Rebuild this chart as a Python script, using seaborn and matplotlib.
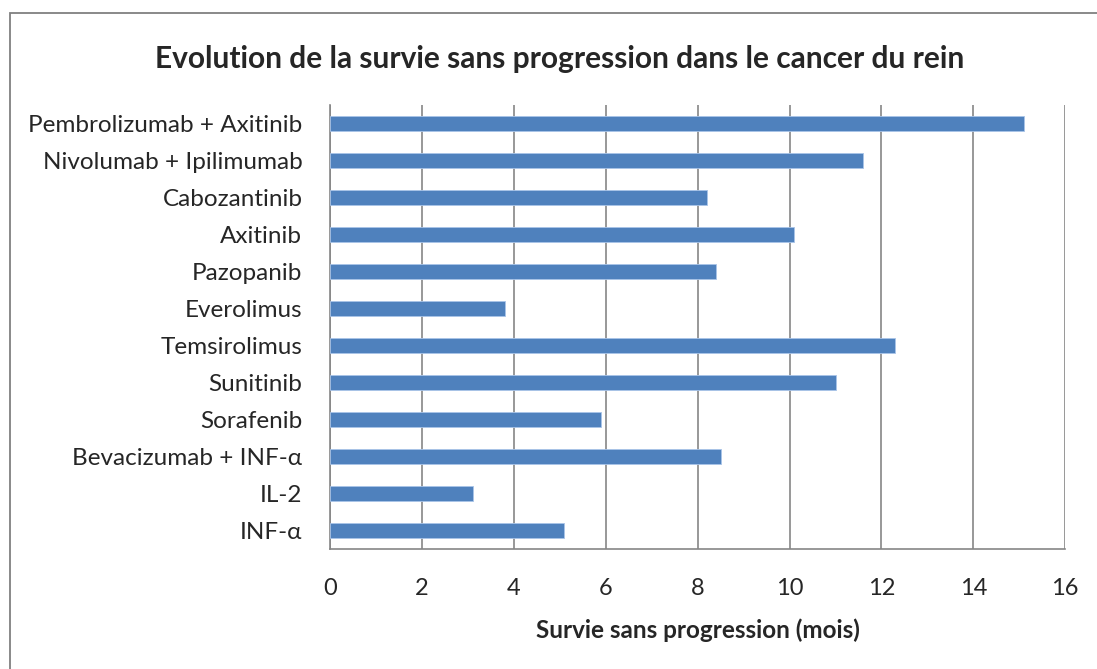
import numpy as np
import pandas as pd
import seaborn as sns
import matplotlib.pyplot as plt
from matplotlib.patches import Rectangle

treatments = ["Pembrolizumab + Axitinib", "Nivolumab + Ipilimumab", "Cabozantinib",
              "Axitinib", "Pazopanib", "Everolimus", "Temsirolimus", "Sunitinib",
              "Sorafenib", "Bevacizumab + INF-α", "IL-2", "INF-α"]
pfs_months = [15.1, 11.6, 8.2, 10.1, 8.4, 3.8, 12.3, 11.0, 5.9, 8.5, 3.1, 5.1]
x_ticks = [0, 2, 4, 6, 8, 10, 12, 14, 16]

df = pd.DataFrame({"Traitement": treatments, "SSP": pfs_months})

sns.set_style("white")
plt.rcParams['font.family'] = ['Lato', 'DejaVu Sans']

fig = plt.figure(figsize=(10.97, 6.69), dpi=100)
ax = fig.add_axes([0.301, 0.179, 0.670, 0.664])

sns.barplot(data=df, x="SSP", y="Traitement", color="#4f81bd", saturation=1,
            width=0.4, edgecolor="#a9c4e8", linewidth=0.6, ax=ax, zorder=3)

grid_c = "#868686"
ax.set_xlim(0, 16)
ax.set_xticks(x_ticks)
ax.set_xticklabels([str(t) for t in x_ticks], fontsize=17)
ax.set_ylim(len(treatments) - 0.5, -0.5)
ax.xaxis.grid(True, color=grid_c, linewidth=1.2, zorder=0)
ax.set_axisbelow(True)

for side in ["top", "right"]:
    ax.spines[side].set_visible(False)
for side in ["left", "bottom"]:
    ax.spines[side].set_color(grid_c)
    ax.spines[side].set_linewidth(1.2)

# x ticks outward, y ticks at category boundaries
ax.tick_params(axis="x", direction="out", length=7, width=1.2, color=grid_c, pad=14)
ax.tick_params(axis="y", which="major", length=0, pad=20, labelsize=17.5)
ax.set_yticks(np.arange(-0.5, len(treatments)), minor=True)
ax.tick_params(axis="y", which="minor", direction="out", length=7, width=1.2, color=grid_c)

ax.set_xlabel("Survie sans progression (mois)", fontsize=17.5, fontweight="bold", labelpad=14)
ax.set_ylabel("")

fig.suptitle("Evolution de la survie sans progression dans le cancer du rein",
             fontsize=21.5, fontweight="bold", x=0.51, y=0.932)

fig.patches.append(Rectangle((10 / 1097, -0.1), 1.2, 1 - 13 / 669 + 0.1,
                             transform=fig.transFigure, fill=False,
                             edgecolor="#808080", linewidth=1.3))

fig.savefig("out.png", dpi=100)
